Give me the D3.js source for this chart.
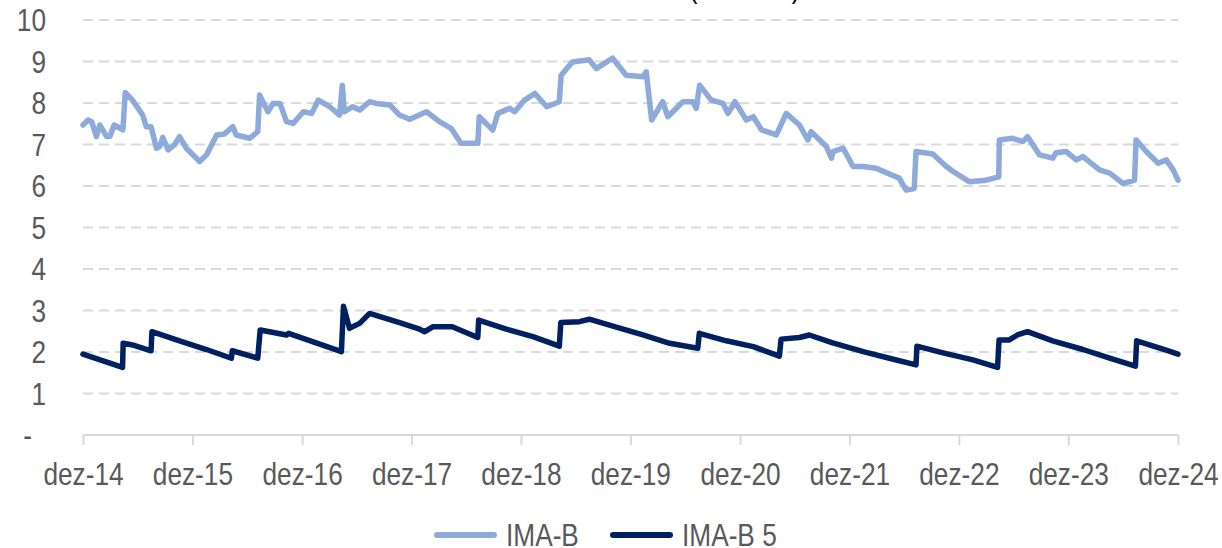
<!DOCTYPE html>
<html>
<head>
<meta charset="utf-8">
<script src="https://cdn.jsdelivr.net/npm/d3@7"></script>
<style>
  body { margin: 0; background: #fff; }
  svg { display: block; }
  text { font-family: "Liberation Sans", Arial, sans-serif; fill: #595959; }
</style>
</head>
<body>
<div id="chart"></div>
<script>
// duration (anos)
var imaB = [
  ["2014-12-01", 7.47], ["2014-12-18", 7.59], ["2014-12-30", 7.55], ["2015-01-15", 7.19],
  ["2015-01-26", 7.47], ["2015-02-18", 7.19], ["2015-03-01", 7.20], ["2015-03-15", 7.47],
  ["2015-04-13", 7.35], ["2015-04-21", 8.25], ["2015-05-15", 8.07], ["2015-06-18", 7.71],
  ["2015-06-30", 7.43], ["2015-07-16", 7.43], ["2015-08-03", 6.91], ["2015-08-14", 6.95],
  ["2015-08-24", 7.17], ["2015-09-11", 6.87], ["2015-10-03", 7.00], ["2015-10-19", 7.19],
  ["2015-11-11", 6.91], ["2015-12-25", 6.59], ["2016-01-17", 6.75], ["2016-02-20", 7.23],
  ["2016-03-16", 7.25], ["2016-04-14", 7.43], ["2016-04-25", 7.23], ["2016-06-09", 7.15],
  ["2016-07-06", 7.31], ["2016-07-12", 8.19], ["2016-08-09", 7.79], ["2016-08-26", 7.99],
  ["2016-09-18", 7.99], ["2016-10-10", 7.55], ["2016-11-02", 7.51], ["2016-12-05", 7.79],
  ["2017-01-02", 7.75], ["2017-01-24", 8.07], ["2017-03-03", 7.91], ["2017-04-05", 7.71],
  ["2017-04-14", 8.43], ["2017-04-21", 7.79], ["2017-05-19", 7.91], ["2017-06-11", 7.83],
  ["2017-07-14", 8.03], ["2017-08-06", 7.99], ["2017-09-20", 7.95], ["2017-10-22", 7.71],
  ["2017-11-25", 7.61], ["2018-01-20", 7.79], ["2018-03-04", 7.55], ["2018-04-12", 7.39],
  ["2018-05-15", 7.03], ["2018-07-10", 7.03], ["2018-07-15", 7.67], ["2018-08-29", 7.35],
  ["2018-09-15", 7.75], ["2018-10-24", 7.87], ["2018-11-10", 7.79], ["2018-12-13", 8.07],
  ["2019-01-16", 8.23], ["2019-02-25", 7.91], ["2019-04-08", 8.03], ["2019-04-14", 8.67],
  ["2019-05-22", 8.99], ["2019-07-17", 9.04], ["2019-08-09", 8.83], ["2019-10-03", 9.08],
  ["2019-11-17", 8.67], ["2020-01-12", 8.63], ["2020-01-23", 8.75], ["2020-02-10", 7.59],
  ["2020-03-18", 8.03], ["2020-04-04", 7.67], ["2020-05-24", 8.03], ["2020-06-26", 8.03],
  ["2020-07-08", 7.87], ["2020-07-19", 8.43], ["2020-08-27", 8.07], ["2020-10-05", 7.99],
  ["2020-10-22", 7.75], ["2020-11-14", 8.03], ["2020-12-22", 7.59], ["2021-01-14", 7.67],
  ["2021-02-11", 7.35], ["2021-04-01", 7.23], ["2021-05-04", 7.75], ["2021-06-17", 7.47],
  ["2021-07-15", 7.11], ["2021-07-26", 7.31], ["2021-09-15", 6.95], ["2021-10-02", 6.67],
  ["2021-10-07", 6.83], ["2021-11-10", 6.91], ["2021-12-13", 6.47], ["2022-01-16", 6.47],
  ["2022-02-28", 6.43], ["2022-04-19", 6.27], ["2022-05-16", 6.19], ["2022-06-08", 5.90],
  ["2022-07-05", 5.94], ["2022-07-11", 6.83], ["2022-09-05", 6.77], ["2022-10-20", 6.47],
  ["2022-11-12", 6.35], ["2023-01-06", 6.10], ["2023-03-01", 6.14], ["2023-04-13", 6.22],
  ["2023-04-15", 7.11], ["2023-05-29", 7.15], ["2023-07-02", 7.07], ["2023-07-18", 7.19],
  ["2023-08-27", 6.75], ["2023-10-10", 6.67], ["2023-10-21", 6.80], ["2023-11-24", 6.83],
  ["2023-12-28", 6.63], ["2024-01-19", 6.71], ["2024-03-14", 6.39], ["2024-04-17", 6.31],
  ["2024-06-01", 6.06], ["2024-07-09", 6.14], ["2024-07-14", 7.11], ["2024-08-17", 6.83],
  ["2024-09-26", 6.55], ["2024-10-23", 6.63], ["2024-11-15", 6.39], ["2024-12-01", 6.14]
];

var imaB5 = [
  ["2014-12-01", 1.95], ["2015-04-12", 1.63], ["2015-04-14", 2.21], ["2015-05-15", 2.17],
  ["2015-07-16", 2.03], ["2015-07-19", 2.49], ["2015-10-19", 2.27], ["2016-01-17", 2.06],
  ["2016-04-09", 1.85], ["2016-04-12", 2.03], ["2016-07-06", 1.85], ["2016-07-14", 2.53],
  ["2016-10-10", 2.41], ["2016-10-17", 2.45], ["2017-04-11", 2.01], ["2017-04-18", 3.10],
  ["2017-05-08", 2.57], ["2017-06-11", 2.69], ["2017-07-14", 2.93], ["2017-10-22", 2.71],
  ["2017-12-28", 2.55], ["2018-01-14", 2.49], ["2018-02-11", 2.61], ["2018-04-16", 2.61],
  ["2018-07-10", 2.35], ["2018-07-13", 2.77], ["2018-10-13", 2.55], ["2019-01-10", 2.37],
  ["2019-04-08", 2.14], ["2019-04-13", 2.71], ["2019-06-14", 2.73], ["2019-07-17", 2.79],
  ["2019-10-15", 2.60], ["2020-01-12", 2.41], ["2020-04-10", 2.21], ["2020-07-13", 2.09],
  ["2020-07-18", 2.45], ["2020-10-16", 2.27], ["2021-01-14", 2.13], ["2021-04-11", 1.90],
  ["2021-04-17", 2.31], ["2021-06-17", 2.35], ["2021-07-20", 2.41], ["2021-10-06", 2.22],
  ["2022-01-16", 2.01], ["2022-04-13", 1.85], ["2022-07-11", 1.69], ["2022-07-14", 2.14],
  ["2022-10-09", 1.98], ["2023-01-17", 1.81], ["2023-04-09", 1.63], ["2023-04-14", 2.29],
  ["2023-05-18", 2.29], ["2023-06-14", 2.41], ["2023-07-18", 2.49], ["2023-10-10", 2.27],
  ["2024-01-19", 2.06], ["2024-04-17", 1.85], ["2024-07-12", 1.66], ["2024-07-16", 2.27],
  ["2024-10-20", 2.05], ["2024-12-01", 1.95]
];

var seriesNames = ["IMA-B", "IMA-B 5"];
var seriesColors = ["#8eaadb", "#002060"];
var yTicks = [0, 1, 2, 3, 4, 5, 6, 7, 8, 9, 10];
var xTickDates = ["2014-12-01", "2015-12-01", "2016-12-01", "2017-12-01", "2018-12-01", "2019-12-01",
                  "2020-12-01", "2021-12-01", "2022-12-01", "2023-12-01", "2024-12-01"];
var shortMonths = ["jan", "fev", "mar", "abr", "mai", "jun", "jul", "ago", "set", "out", "nov", "dez"];

var width = 1222, height = 548;
var margin = {top: 20, right: 44, bottom: 113, left: 83};
var narrow = 0.82;  // no Arial Narrow here, so squeeze the text sideways
var parse = d3.timeParse("%Y-%m-%d");

var svg = d3.select("#chart").append("svg")
    .attr("width", width)
    .attr("height", height);

// put a text at (px,py) and squeeze it horizontally around that point
function squeeze(sel, px, py) {
    sel.attr("x", 0).attr("y", 0)
        .attr("transform", "translate(" + px + "," + py + ") scale(" + narrow + ",1)");
}

// title sits above the visible area, only the bottom of the brackets shows
svg.append("text")
    .attr("text-anchor", "end")
    .style("font-size", "30px")
    .style("fill", "#000")
    .text("Duration dos índices (em anos)")
    .call(squeeze, 800, -2);

var x = d3.scaleTime()
    .domain([parse(xTickDates[0]), parse(xTickDates[xTickDates.length - 1])])
    .range([margin.left, width - margin.right]);

var y = d3.scaleLinear()
    .domain([0, 10])
    .range([height - margin.bottom, margin.top]);

// dashed gridlines
svg.append("g")
    .selectAll("line")
    .data(yTicks.filter(d => d > 0))
    .enter().append("line")
    .attr("x1", x.range()[0])
    .attr("x2", x.range()[1])
    .attr("y1", d => y(d))
    .attr("y2", d => y(d))
    .attr("stroke", "#d9d9d9")
    .attr("stroke-width", 2)
    .attr("stroke-dasharray", "10,6");

// y labels
var yAxis = d3.axisLeft(y)
    .tickValues(yTicks)
    .tickSize(0)
    .tickFormat(d => d === 0 ? "-" : d);

var gy = svg.append("g")
    .attr("transform", "translate(" + margin.left + ",0)")
    .call(yAxis);
gy.select(".domain").remove();
gy.selectAll("text")
    .style("font-size", "32px")
    .attr("dy", "0.34em")
    .each(function(d) {
        d3.select(this).attr("transform", "translate(" + (d === 0 ? -51 : -37) + ",0) scale(" + narrow + ",1)")
            .attr("x", 0);
    });

// x axis
var monthFmt = function(d) {
    return shortMonths[d.getMonth()] + "-" + d3.timeFormat("%y")(d);
};
var xAxis = d3.axisBottom(x)
    .tickValues(xTickDates.map(parse))
    .tickSize(10)
    .tickFormat(monthFmt);

var gx = svg.append("g")
    .attr("transform", "translate(0," + y(0) + ")")
    .call(xAxis);
gx.select(".domain").attr("stroke", "#d9d9d9").attr("stroke-width", 2).attr("d",
    "M" + x.range()[0] + ",0H" + x.range()[1]);
gx.selectAll(".tick line").attr("stroke", "#d9d9d9").attr("stroke-width", 2);
gx.selectAll("text")
    .style("font-size", "32px")
    .attr("dy", null)
    .call(squeeze, 0, 50);

// lines
var line = d3.line()
    .x(d => x(parse(d[0])))
    .y(d => y(d[1]));

[imaB, imaB5].forEach(function(data, i) {
    svg.append("path")
        .datum(data)
        .attr("fill", "none")
        .attr("stroke", seriesColors[i])
        .attr("stroke-width", 5.5)
        .attr("stroke-linejoin", "round")
        .attr("stroke-linecap", "round")
        .attr("d", line);
});

// legend
var legendX = [437, 613];
var legend = svg.append("g");
seriesNames.forEach(function(name, i) {
    legend.append("line")
        .attr("x1", legendX[i])
        .attr("x2", legendX[i] + 57)
        .attr("y1", 535)
        .attr("y2", 535)
        .attr("stroke", seriesColors[i])
        .attr("stroke-width", 6)
        .attr("stroke-linecap", "round");
    legend.append("text")
        .style("font-size", "32px")
        .text(name)
        .call(squeeze, legendX[i] + 69, 546);
});
</script>
</body>
</html>
